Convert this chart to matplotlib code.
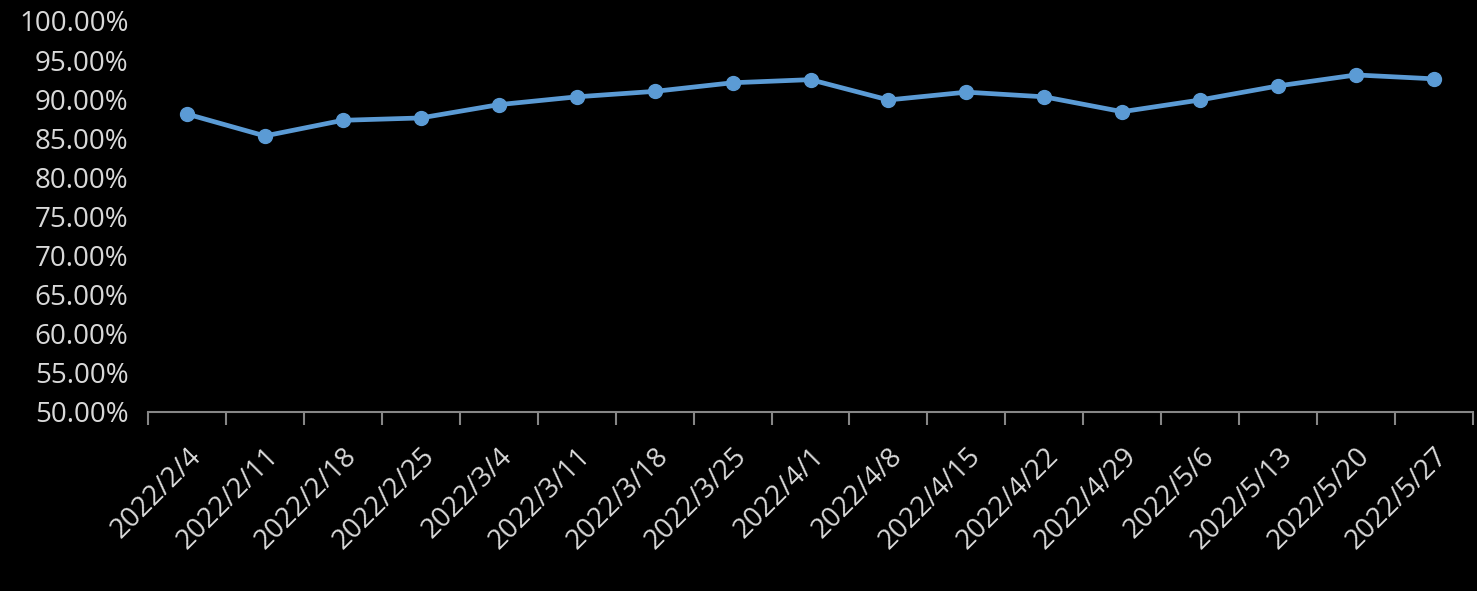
import matplotlib.pyplot as plt
import numpy as np
from matplotlib.ticker import FuncFormatter, FixedLocator

dates = ['2022/2/4', '2022/2/11', '2022/2/18', '2022/2/25', '2022/3/4', '2022/3/11',
         '2022/3/18', '2022/3/25', '2022/4/1', '2022/4/8', '2022/4/15', '2022/4/22',
         '2022/4/29', '2022/5/6', '2022/5/13', '2022/5/20', '2022/5/27']
rates = [88.1, 85.3, 87.3, 87.6, 89.3, 90.3, 91.0, 92.1, 92.5, 89.9, 90.9,
         90.3, 88.4, 89.9, 91.7, 93.1, 92.6]

plt.rcParams['font.family'] = ['Open Sans', 'DejaVu Sans']
text_col = '#D9D9D9'

fig = plt.figure(figsize=(14.77, 5.91), dpi=100, facecolor='black')
ax = fig.add_axes([0.1002, 0.3029, 0.8971, 0.6616])
ax.set_facecolor('black')

x = np.arange(len(dates))
ax.plot(x, np.array(rates) / 100, color='#5B9BD5', lw=3.4, marker='o', ms=10,
        solid_capstyle='round')

ax.set_xlim(-0.5, len(dates) - 0.5)
ax.set_ylim(0.5, 1.0)
ax.set_yticks(np.arange(0.5, 1.0001, 0.05))
ax.yaxis.set_major_formatter(FuncFormatter(lambda v, p: f'{v*100:.2f}%'))

ax.set_xticks(x)
ax.set_xticklabels(dates, rotation=45, ha='right', va='top', rotation_mode='anchor')
ax.xaxis.set_minor_locator(FixedLocator(np.arange(-0.5, len(dates), 1)))
ax.tick_params(axis='x', which='major', length=0, pad=22, labelsize=20, labelcolor=text_col)
ax.tick_params(axis='x', which='minor', length=9, width=1.5, color='#868686')
ax.tick_params(axis='y', length=0, pad=14, labelsize=20, labelcolor=text_col)

for s in ['top', 'right', 'left']:
    ax.spines[s].set_visible(False)
ax.spines['bottom'].set_color('#868686')
ax.spines['bottom'].set_linewidth(1.5)

fig.savefig('out.png', dpi=100, facecolor='black')
